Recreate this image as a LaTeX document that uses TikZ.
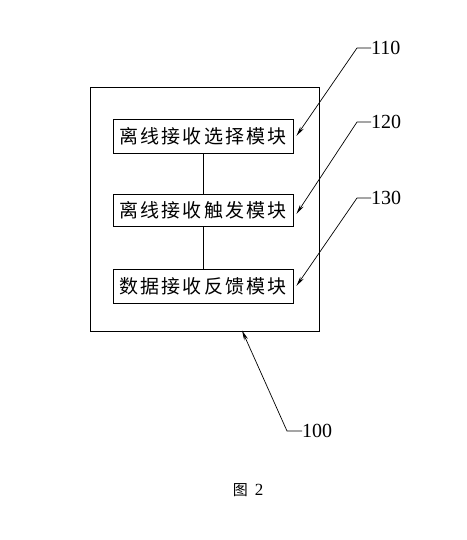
\documentclass[tikz,border=0pt]{standalone}
\usepackage{fontspec}
\setmainfont{Liberation Serif}
\newfontfamily\cjk{Noto Sans CJK SC}
\newfontfamily\cjkspaced[LetterSpace=12]{Noto Sans CJK SC}
\usetikzlibrary{arrows.meta}
\begin{document}
\begin{tikzpicture}[x=1pt,y=-1pt,
  frame/.style={draw,line width=0.8pt,inner sep=0pt},
  module/.style={frame,minimum width=180pt,minimum height=34pt,font=\cjkspaced\fontsize{19}{19}\selectfont},
  leader/.style={line width=0.7pt,-{Stealth[length=10pt,width=4pt]}},
  link/.style={line width=0.8pt},
  reflabel/.style={font=\fontsize{20}{20}\selectfont,inner sep=0pt,anchor=west}]
\useasboundingbox (0,0) rectangle (466,540);
\node[frame,minimum width=229pt,minimum height=244pt] (sys) at (204.5,209) {};
\node[module] (b1) at (203,136) {离线接收选择模块};
\node[module,minimum height=32pt] (b2) at (203,210) {离线接收触发模块};
\node[module] (b3) at (203,286) {数据接收反馈模块};
\draw[link] (b1.south) -- (b2.north);
\draw[link] (b2.south) -- (b3.north);
\node[reflabel] (l110) at (371,48) {110};
\node[reflabel] (l120) at (371,122) {120};
\node[reflabel] (l130) at (371,198) {130};
\node[reflabel] (l100) at (302,431) {100};
\draw[leader] (l110.west) -- ++(-14,0) -- ([xshift=3pt]b1.east);
\draw[leader] (l120.west) -- ++(-14,0) -- ([xshift=3pt,yshift=-4pt]b2.east);
\draw[leader] (l130.west) -- ++(-14,0) -- ([xshift=3pt]b3.east);
\draw[leader] (l100.west) -- ++(-15,0) -- ([xshift=37.5pt,yshift=1pt]sys.south);
\node[inner sep=0pt] (cap) at (248,490) {{\cjk\fontsize{15}{15}\selectfont 图}\hspace{7pt}{\fontsize{17}{17}\selectfont 2}};
\end{tikzpicture}
\end{document}
